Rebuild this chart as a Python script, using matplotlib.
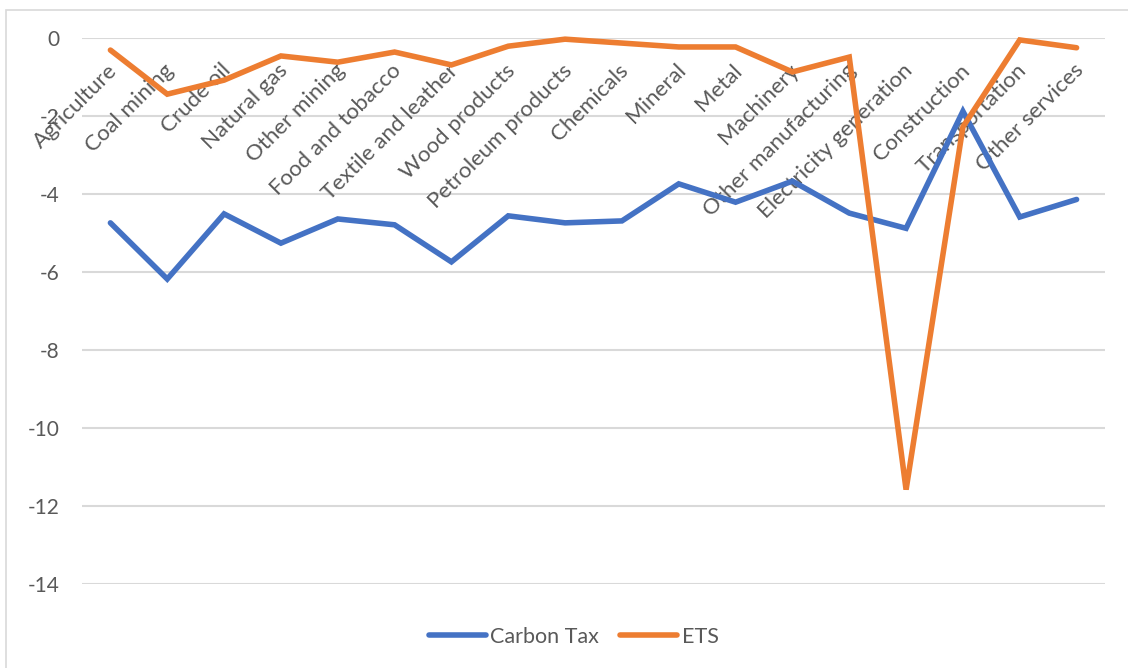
import matplotlib
matplotlib.use("Agg")
import matplotlib.pyplot as plt
from matplotlib.patches import Rectangle

sectors = ["Agriculture", "Coal mining", "Crude oil", "Natural gas", "Other mining",
           "Food and tobacco", "Textile and leather", "Wood products",
           "Petroleum products", "Chemicals", "Mineral", "Metal", "Machinery",
           "Other manufacturing", "Electricity generation", "Construction",
           "Transportation", "Other services"]
carbon_tax = [-4.74, -6.18, -4.51, -5.26, -4.64, -4.79, -5.74, -4.56, -4.74,
              -4.69, -3.74, -4.21, -3.67, -4.49, -4.88, -1.88, -4.59, -4.14]
ets = [-0.31, -1.44, -1.08, -0.46, -0.62, -0.36, -0.69, -0.21, -0.03,
       -0.13, -0.23, -0.23, -0.87, -0.49, -11.58, -2.28, -0.05, -0.25]
y_ticks = [0, -2, -4, -6, -8, -10, -12, -14]

TEXT = "#595959"
GRID = "#D9D9D9"
BLUE = "#4472C4"
ORANGE = "#ED7D31"
plt.rcParams["font.family"] = ["Lato", "DejaVu Sans"]

fig = plt.figure(figsize=(11.28, 6.68), dpi=100)
fig.patches.append(Rectangle((6 / 1128, -0.1), 1.2, 1 - 10 / 668 + 0.1,
                             transform=fig.transFigure, fill=False,
                             edgecolor=GRID, linewidth=1.2, zorder=0))

ax = fig.add_axes([82 / 1128, 1 - 584 / 668, (1105 - 82) / 1128, 546 / 668])
x = list(range(len(sectors)))
ax.plot(x, carbon_tax, color=BLUE, lw=4.0, solid_capstyle="round",
        solid_joinstyle="miter", label="Carbon Tax", clip_on=False, zorder=3)
ax.plot(x, ets, color=ORANGE, lw=4.0, solid_capstyle="round",
        solid_joinstyle="miter", label="ETS", clip_on=False, zorder=3)

ax.set_xlim(-0.5, len(sectors) - 0.5)
ax.set_ylim(-14, 0)
ax.set_yticks(y_ticks)
ax.set_yticklabels([str(v) for v in y_ticks], fontsize=15, color=TEXT)
ax.yaxis.grid(True, color=GRID, lw=1.5)
ax.set_axisbelow(True)
ax.tick_params(axis="y", length=0, pad=16)
for s in ax.spines.values():
    s.set_visible(False)

ax.set_xticks(x)
ax.set_xticklabels([])
ax.tick_params(axis="x", length=0)
for i, name in enumerate(sectors):
    ax.annotate(name, xy=(i, 0), xycoords="data", xytext=(-2.5, -16),
                textcoords="offset points", rotation=45, ha="right", va="top",
                rotation_mode="anchor", fontsize=16, color=TEXT, zorder=2)

leg = ax.legend(loc="center", bbox_to_anchor=(573.5 / 1128, (668 - 637) / 668),
                bbox_transform=fig.transFigure, ncol=2, frameon=False,
                fontsize=15.5, handlelength=2.65, handletextpad=0.2,
                columnspacing=1.0, labelcolor=TEXT)

fig.savefig("out.png", dpi=100, facecolor="white")
